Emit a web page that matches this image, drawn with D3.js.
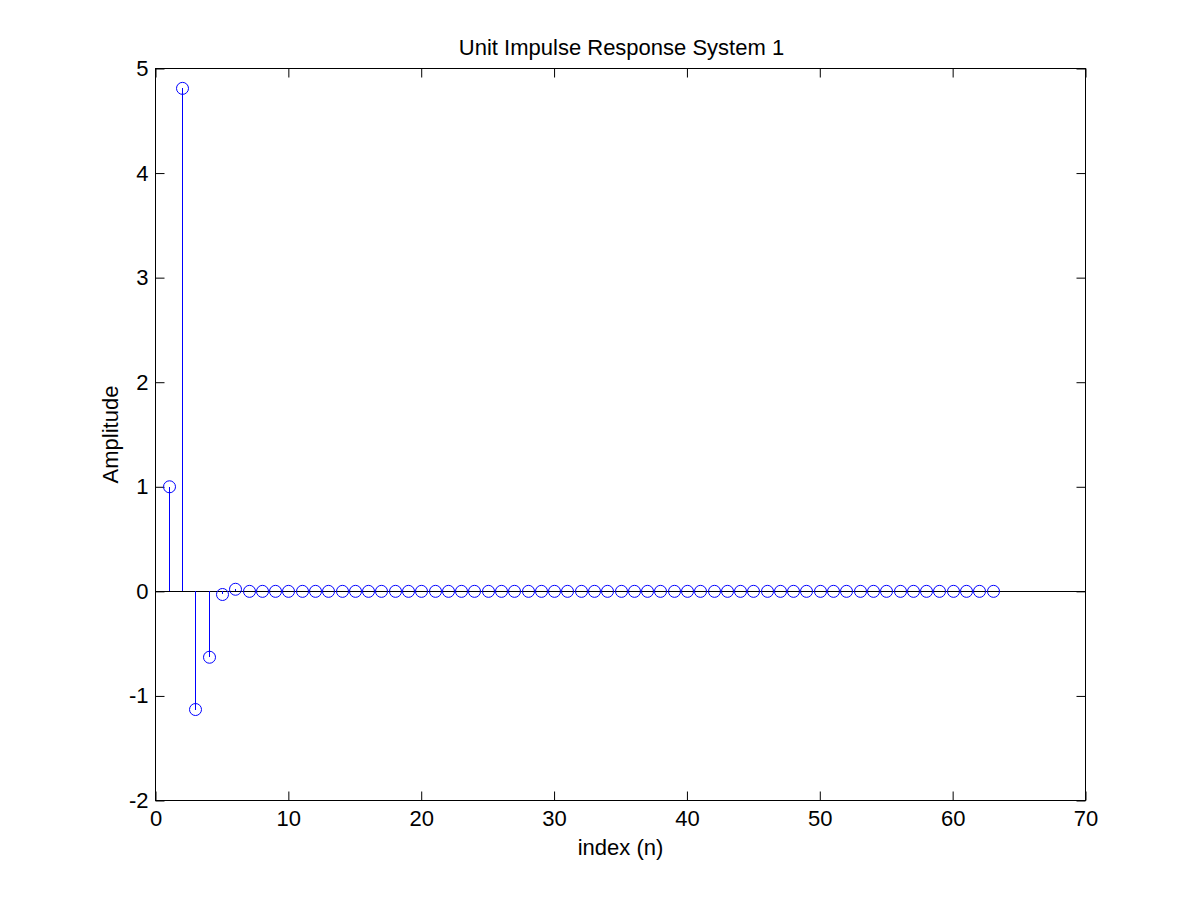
<!DOCTYPE html>
<html>
<head>
<meta charset="utf-8">
<script src="https://cdn.jsdelivr.net/npm/d3@7"></script>
<style>
  body { margin: 0; background: #fff; }
  text { font-family: "Liberation Sans", Arial, sans-serif; }
</style>
</head>
<body>
<svg id="chart" width="1200" height="900"></svg>
<script>
'use strict'

// chart data
const indexN = d3.range(1, 64)
const headValues = [1.0, 4.81, -1.13, -0.63, -0.03, 0.02]
const amplitude = indexN.map((n, i) => (i < headValues.length ? headValues[i] : 0))
const xTicks = [0, 10, 20, 30, 40, 50, 60, 70]
const yTicks = [-2, -1, 0, 1, 2, 3, 4, 5]

const margin = { top: 68.5, right: 114.5, bottom: 99.5, left: 155.5 }
const width = 1200
const height = 900
const stemColor = '#0000ff'
const fontSize = 22
const tickLen = 9

const svg = d3.select('#chart')
svg.append('rect').attr('width', width).attr('height', height).attr('fill', '#fff')

const x = d3.scaleLinear().domain([0, 70]).range([margin.left, width - margin.right])
const y = d3.scaleLinear().domain([-2, 5]).range([height - margin.bottom, margin.top])

const g = svg.append('g')

// axes box with inward ticks on all sides
function styleAxis (sel, hideText) {
  sel.select('.domain').remove()
  sel.selectAll('line').attr('stroke', '#000').attr('stroke-width', 1)
  sel.selectAll('text').attr('font-size', fontSize).attr('fill', '#000')
  if (hideText) sel.selectAll('text').remove()
}

g.append('g')
  .attr('transform', `translate(0,${y(-2)})`)
  .call(d3.axisBottom(x).tickValues(xTicks).tickSizeInner(-tickLen).tickPadding(10).tickFormat(d => String(d)))
  .call(s => styleAxis(s, false))

g.append('g')
  .attr('transform', `translate(0,${y(5)})`)
  .call(d3.axisTop(x).tickValues(xTicks).tickSizeInner(-tickLen))
  .call(s => styleAxis(s, true))

g.append('g')
  .attr('transform', `translate(${x(0)},0)`)
  .call(d3.axisLeft(y).tickValues(yTicks).tickSizeInner(-tickLen).tickPadding(7).tickFormat(d => String(d)))
  .call(s => styleAxis(s, false))

g.append('g')
  .attr('transform', `translate(${x(70)},0)`)
  .call(d3.axisRight(y).tickValues(yTicks).tickSizeInner(-tickLen))
  .call(s => styleAxis(s, true))

g.append('rect')
  .attr('x', x(0)).attr('y', y(5))
  .attr('width', x(70) - x(0)).attr('height', y(-2) - y(5))
  .attr('fill', 'none').attr('stroke', '#000').attr('stroke-width', 1)

// baseline
g.append('line')
  .attr('x1', x(0)).attr('x2', x(70))
  .attr('y1', Math.round(y(0)) + 0.5).attr('y2', Math.round(y(0)) + 0.5)
  .attr('stroke', '#000').attr('stroke-width', 1)

// stems
g.selectAll('.stem')
  .data(indexN)
  .join('line')
  .attr('class', 'stem')
  .attr('x1', d => Math.round(x(d)) + 0.5)
  .attr('x2', d => Math.round(x(d)) + 0.5)
  .attr('y1', y(0))
  .attr('y2', (d, i) => y(amplitude[i]))
  .attr('stroke', stemColor).attr('stroke-width', 1)
  .attr('shape-rendering', 'crispEdges')

// markers
g.selectAll('.mark')
  .data(indexN)
  .join('circle')
  .attr('class', 'mark')
  .attr('cx', d => Math.round(x(d)) + 0.5)
  .attr('cy', (d, i) => y(amplitude[i]))
  .attr('r', 6)
  .attr('fill', 'none')
  .attr('stroke', stemColor).attr('stroke-width', 1)

// labels
svg.append('text')
  .attr('x', (x(0) + x(70)) / 2 + 1).attr('y', 55)
  .attr('text-anchor', 'middle').attr('font-size', fontSize)
  .text('Unit Impulse Response System 1')

svg.append('text')
  .attr('x', (x(0) + x(70)) / 2).attr('y', 855)
  .attr('text-anchor', 'middle').attr('font-size', fontSize)
  .text('index (n)')

svg.append('text')
  .attr('transform', `translate(118,${(y(-2) + y(5)) / 2}) rotate(-90)`)
  .attr('text-anchor', 'middle').attr('font-size', fontSize)
  .text('Amplitude')
</script>
</body>
</html>
